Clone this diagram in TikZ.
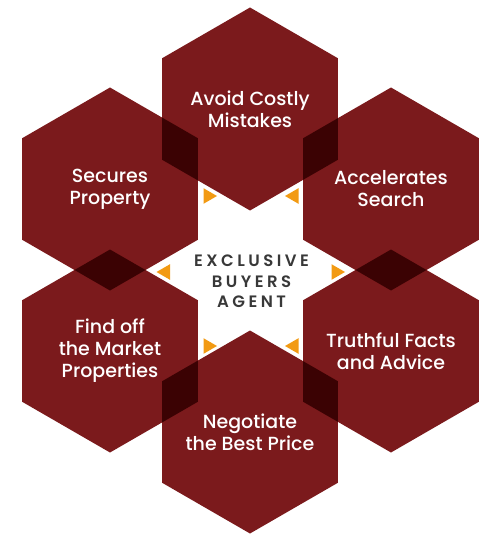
\documentclass[tikz,border=0pt]{standalone}
\usepackage{fontspec}
\setmainfont{Poppins}[UprightFont=* Medium,BoldFont=* SemiBold]
\usetikzlibrary{shapes.geometric}
\definecolor{hexred}{HTML}{7B1A1C}
\definecolor{tiporange}{HTML}{F29A13}
\definecolor{agentgray}{HTML}{383838}
\begin{document}
\begin{tikzpicture}[x=1pt,y=-1pt,
  hex node/.style={regular polygon,regular polygon sides=6,shape border rotate=30,fill=hexred,minimum size=203pt,inner sep=0pt},
  text node/.style={text=white,align=center,font=\fontsize{19}{22}\selectfont},
  tip node/.style={regular polygon,regular polygon sides=3,fill=tiporange,minimum size=18pt,inner sep=0pt},
  agent node/.style={text=agentgray,align=center,font=\fontsize{16.5}{20.5}\selectfont\bfseries\addfontfeature{LetterSpace=21}}]

  \useasboundingbox (0,0) rectangle (500,540);

  \begin{scope}[blend group=multiply]
  \node[hex node] (avoid) at (250,109) {};
  \node[hex node] (secures) at (110,189) {};
  \node[hex node] (accel) at (391,189) {};
  \node[hex node] (find) at (110,351) {};
  \node[hex node] (truth) at (391,351) {};
  \node[hex node] (price) at (250,432) {};
  \end{scope}

  \node[tip node,shape border rotate=-90] (t1) at (208,196) {};
  \node[tip node,shape border rotate=90] (t2) at (294,196) {};
  \node[tip node,shape border rotate=90] (t3) at (165.5,272) {};
  \node[tip node,shape border rotate=-90] (t4) at (336,272) {};
  \node[tip node,shape border rotate=-90] (t5) at (208,346) {};
  \node[tip node,shape border rotate=90] (t6) at (294,346) {};

  \node[text node] (l1) at (avoid) {Avoid Costly\\Mistakes};
  \node[text node] (l2) at (secures) {Secures\\Property};
  \node[text node] (l3) at (accel) {Accelerates\\Search};
  \node[text node] (l4) at (find) {Find off\\the Market\\Properties};
  \node[text node] (l5) at (truth) {Truthful Facts\\and Advice};
  \node[text node] (l6) at (price) {Negotiate\\the Best Price};

  \node[agent node] (agent) at (251.5,281.5) {EXCLUSIVE\\BUYERS\\AGENT};
\end{tikzpicture}
\end{document}
